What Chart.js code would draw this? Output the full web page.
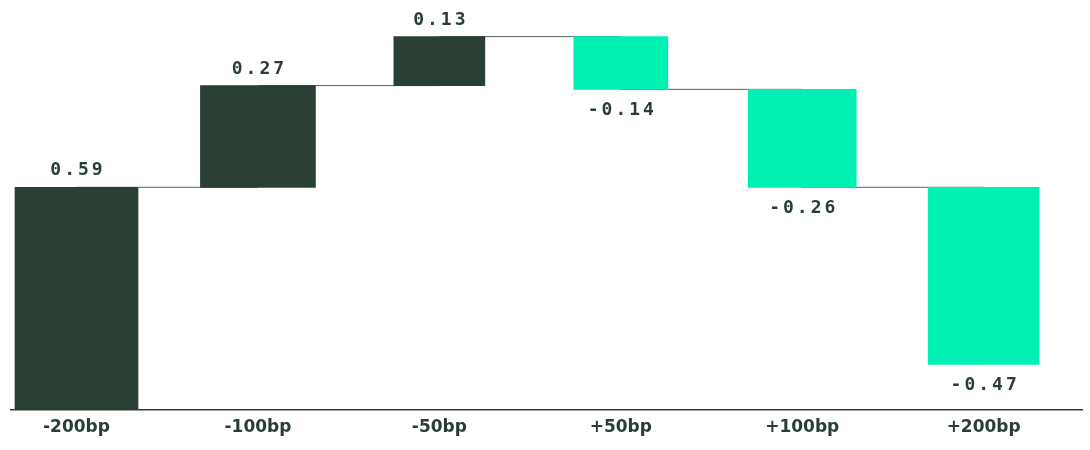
<!DOCTYPE html>
<html>
<head>
<meta charset="utf-8">
<script src="https://cdn.jsdelivr.net/npm/chart.js@4/dist/chart.umd.min.js"></script>
<style>
  html, body { margin: 0; padding: 0; background: #ffffff; }
  #wrap { width: 1090px; height: 450px; }
</style>
</head>
<body>
<div id="wrap"><canvas id="chart" width="1090" height="450"></canvas></div>
<script>
// Rate-shock scenarios and the change each one contributes
const CATEGORIES = ['-200bp', '-100bp', '-50bp', '+50bp', '+100bp', '+200bp'];
const CHANGES = [0.59, 0.27, 0.13, -0.14, -0.26, -0.47];

// Styling
const DARK = '#2a3f33';
const MINT = '#00f0b4';
const CONNECTOR = '#5c615e';
const BAR_WIDTHS = [123, 115, 91, 94, 108, 111];

// Running totals: each bar floats from the previous total to the new one
const starts = [];
const ends = [];
let running = 0;
CHANGES.forEach((c) => {
  starts.push(running);
  running = Math.round((running + c) * 100) / 100;
  ends.push(running);
});

const barSets = CATEGORIES.map((label, i) => ({
  type: 'bar',
  label: label,
  data: [{ x: i, y: [starts[i], ends[i]] }],
  backgroundColor: CHANGES[i] >= 0 ? DARK : MINT,
  borderWidth: 0,
  barThickness: BAR_WIDTHS[i],
  grouped: false,
  order: 1
}));

// Thin step line joining one bar's end level to the next bar
const connector = {
  type: 'line',
  label: 'connector',
  data: ends.map((v, i) => ({ x: i, y: v })),
  stepped: true,
  borderColor: CONNECTOR,
  borderWidth: 1,
  pointRadius: 0,
  fill: false,
  order: 10
};

const valueLabels = {
  id: 'valueLabels',
  afterDatasetsDraw(chart) {
    const ctx = chart.ctx;
    ctx.save();
    ctx.font = 'bold 18px "DejaVu Sans Mono"';
    ctx.fillStyle = DARK;
    ctx.textAlign = 'center';
    ctx.textBaseline = 'alphabetic';
    if ('letterSpacing' in ctx) ctx.letterSpacing = '3px';
    CHANGES.forEach((c, i) => {
      const el = chart.getDatasetMeta(i).data[0];
      const top = Math.min(el.y, el.base);
      const bottom = Math.max(el.y, el.base);
      const y = c >= 0 ? top - 12 : bottom + 26;
      ctx.fillText(c.toFixed(2), el.x + 1.5, y);
    });
    ctx.restore();
  }
};

new Chart(document.getElementById('chart'), {
  type: 'bar',
  data: { datasets: [...barSets, connector] },
  options: {
    responsive: false,
    animation: false,
    layout: { padding: { left: 11, right: 8, top: 14, bottom: 4 } },
    plugins: { legend: { display: false }, tooltip: { enabled: false } },
    scales: {
      x: {
        type: 'linear',
        offset: false,
        bounds: 'data',
        min: -0.361,
        max: 5.542,
        grid: { display: false, drawTicks: false },
        border: { display: true, color: DARK, width: 1.5 },
        afterBuildTicks: (scale) => {
          scale.ticks = CATEGORIES.map((_, i) => ({ value: i }));
        },
        ticks: {
          padding: 8,
          color: DARK,
          font: { family: '"DejaVu Sans"', weight: 'bold', size: 17 },
          callback: (v) => CATEGORIES[v] ?? ''
        }
      },
      y: {
        display: false,
        min: 0,
        max: 1.05
      }
    }
  },
  plugins: [valueLabels]
});
</script>
</body>
</html>
